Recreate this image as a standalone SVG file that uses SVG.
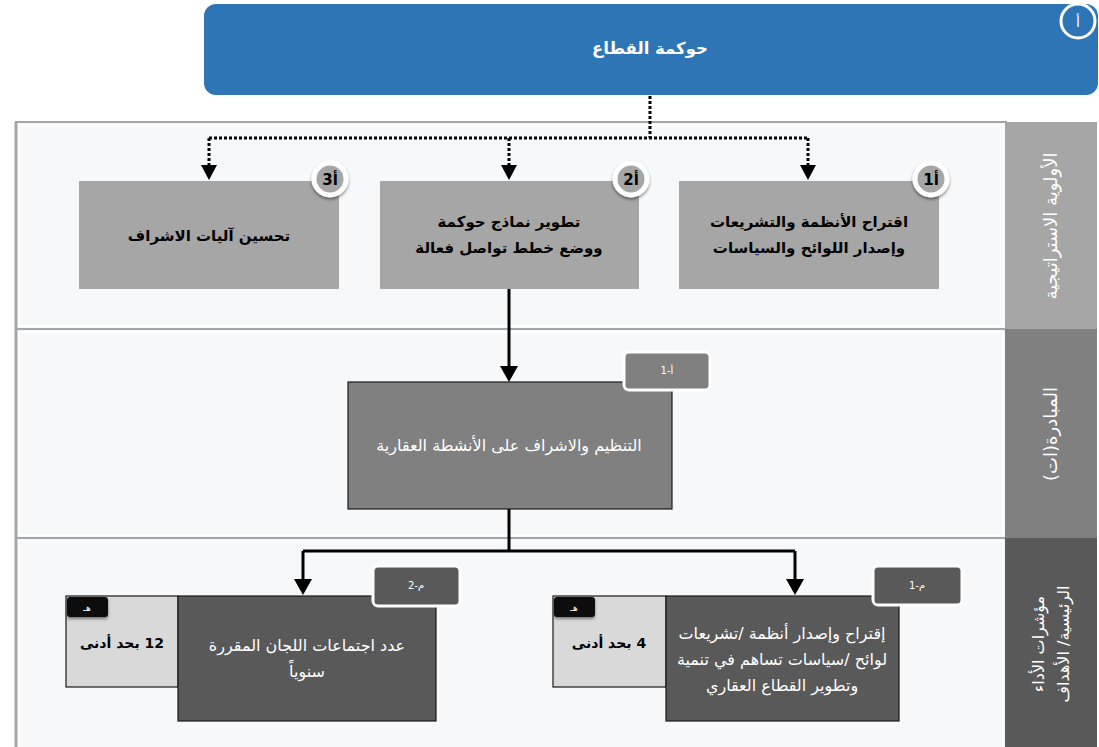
<svg xmlns="http://www.w3.org/2000/svg" width="1099" height="747" viewBox="0 0 1099 747">
  <defs>
    <style>
      .ar { font-family: "DejaVu Sans", "Noto Sans", sans-serif; }
      .band { fill: #F7F8FA; stroke: #A6A6A6; stroke-width: 2; }
      .bevel { fill: none; stroke: #FFFFFF; stroke-width: 2; }
      .side { stroke: none; }
      .sidetxt { fill: #FFFFFF; font-size: 18px; text-anchor: middle; }
      .sidetxt-sm { fill: #FFFFFF; font-size: 16px; text-anchor: middle; }
      .prio { fill: #A6A6A6; }
      .prio-txt { fill: #000000; font-size: 15px; font-weight: bold; text-anchor: middle; }
      .badge { fill: #A6A6A6; stroke: #FFFFFF; stroke-width: 5; }
      .badge-txt { fill: #000000; font-size: 15px; font-weight: bold; text-anchor: middle; }
      .init { fill: #808080; stroke: #1A1A1A; stroke-width: 1.2; }
      .kpi { fill: #595959; stroke: #1A1A1A; stroke-width: 1.2; }
      .target { fill: #D9D9D9; stroke: #1A1A1A; stroke-width: 1.2; }
      .tag-init { fill: #808080; stroke: #FFFFFF; stroke-width: 3; }
      .tag-kpi { fill: #595959; stroke: #FFFFFF; stroke-width: 3; }
      .tag-txt { fill: #FFFFFF; font-size: 10px; text-anchor: middle; }
      .white-txt { fill: #FFFFFF; font-size: 16px; text-anchor: middle; }
      .target-txt { fill: #000000; font-size: 14px; font-weight: bold; text-anchor: middle; }
      .unit { fill: #0D0D0D; }
      .unit-txt { fill: #FFFFFF; font-size: 9px; text-anchor: middle; }
      .dotted { fill: none; stroke: #000000; stroke-width: 3; stroke-dasharray: 3 2; }
      .solid { fill: none; stroke: #000000; stroke-width: 3; }
      .head { fill: #000000; }
    </style>
    <filter id="shadow" x="-30%" y="-30%" width="160%" height="180%">
      <feDropShadow dx="0" dy="2" stdDeviation="1.5" flood-color="#000000" flood-opacity="0.45"/>
    </filter>
  </defs>

  <!-- swimlane bands -->
  <g id="bands">
    <rect class="band" x="16" y="122" width="990" height="207"/>
    <rect class="bevel" x="19" y="125" width="984" height="201"/>
    <rect class="band" x="16" y="329" width="990" height="209"/>
    <rect class="bevel" x="19" y="332" width="984" height="203"/>
    <rect class="band" x="16" y="538" width="990" height="215"/>
    <rect class="bevel" x="19" y="541" width="984" height="209"/>
    <line x1="16" y1="122" x2="16" y2="747" stroke="#A6A6A6" stroke-width="3"/>
  </g>

  <!-- lane headers -->
  <g id="lane-priority">
    <rect class="side" x="1005" y="122" width="92" height="207" fill="#A6A6A6"/>
    <text class="ar sidetxt" transform="translate(1057,226) rotate(-90)" direction="rtl">الأولوية الاستراتيجية</text>
  </g>
  <g id="lane-initiative">
    <rect class="side" x="1005" y="329" width="92" height="209" fill="#808080"/>
    <text class="ar sidetxt" transform="translate(1057,434) rotate(-90)" direction="rtl">المبادرة(ات)</text>
  </g>
  <g id="lane-kpi">
    <rect class="side" x="1005" y="538" width="92" height="209" fill="#595959"/>
    <text class="ar sidetxt-sm" transform="translate(1044,644) rotate(-90)" direction="rtl">مؤشرات الأداء</text>
    <text class="ar sidetxt-sm" transform="translate(1069,644) rotate(-90)" direction="rtl">الرئيسية/ الأهداف</text>
  </g>

  <!-- connectors -->
  <g id="connectors">
    <path class="dotted" d="M650,96 V138"/>
    <path class="dotted" d="M209,138 H808"/>
    <path class="dotted" d="M209,138 V166"/>
    <path class="dotted" d="M509,138 V166"/>
    <path class="dotted" d="M808,138 V166"/>
    <path class="head" d="M201,165 L217,165 L209,180 Z"/>
    <path class="head" d="M501,165 L517,165 L509,180 Z"/>
    <path class="head" d="M800,165 L816,165 L808,180 Z"/>
    <path class="solid" d="M509,289 V368"/>
    <path class="head" d="M500,366 L518,366 L509,382 Z"/>
    <path class="solid" d="M509,509 V551"/>
    <path class="solid" d="M303,551 H795"/>
    <path class="solid" d="M303,551 V581"/>
    <path class="solid" d="M795,551 V581"/>
    <path class="head" d="M294,579 L312,579 L303,595 Z"/>
    <path class="head" d="M786,579 L804,579 L795,595 Z"/>
  </g>

  <!-- sector header -->
  <g id="sector">
    <rect x="204" y="4" width="894" height="91" rx="12" fill="#2E75B6"/>
    <text class="ar" x="650" y="54" font-size="16.5" font-weight="bold" fill="#FFFFFF" text-anchor="middle" direction="rtl">حوكمة القطاع</text>
    <circle cx="1078" cy="21" r="17" fill="#2E75B6" stroke="#FFFFFF" stroke-width="3"/>
    <text class="ar" x="1078" y="27" font-size="14" fill="#FFFFFF" text-anchor="middle">أ</text>
  </g>

  <!-- strategic priorities -->
  <g id="priority-1">
    <rect class="prio" x="679" y="181" width="260" height="108"/>
    <text class="ar prio-txt" x="809" y="227" direction="rtl">اقتراح الأنظمة والتشريعات</text>
    <text class="ar prio-txt" x="809" y="253" direction="rtl">وإصدار اللوائح والسياسات</text>
    <circle class="badge" cx="931" cy="179" r="16" filter="url(#shadow)"/>
    <text class="ar badge-txt" x="931" y="185">1أ</text>
  </g>
  <g id="priority-2">
    <rect class="prio" x="380" y="181" width="259" height="108"/>
    <text class="ar prio-txt" x="509" y="227" direction="rtl">تطوير نماذج حوكمة</text>
    <text class="ar prio-txt" x="509" y="253" direction="rtl">ووضع خطط تواصل فعالة</text>
    <circle class="badge" cx="631" cy="179" r="16" filter="url(#shadow)"/>
    <text class="ar badge-txt" x="631" y="185">2أ</text>
  </g>
  <g id="priority-3">
    <rect class="prio" x="79" y="181" width="260" height="108"/>
    <text class="ar prio-txt" x="209" y="241" direction="rtl">تحسين آليات الاشراف</text>
    <circle class="badge" cx="330" cy="179" r="16" filter="url(#shadow)"/>
    <text class="ar badge-txt" x="330" y="185">3أ</text>
  </g>

  <!-- initiative -->
  <g id="initiative-1">
    <rect class="init" x="348" y="382" width="324" height="127"/>
    <text class="ar white-txt" x="509" y="451" direction="rtl">التنظيم والاشراف على الأنشطة العقارية</text>
    <rect class="tag-init" x="624" y="352" width="86" height="38" rx="5"/>
    <text class="ar tag-txt" x="667" y="374">1-أ</text>
  </g>

  <!-- key performance indicators -->
  <g id="kpi-1">
    <rect class="target" x="553" y="596" width="113" height="91"/>
    <rect class="unit" x="554" y="597" width="41" height="20" rx="3" filter="url(#shadow)"/>
    <text class="ar unit-txt" x="574" y="611">هـ</text>
    <text class="ar target-txt" x="609" y="648" direction="rtl">4 بحد أدنى</text>
    <rect class="kpi" x="666" y="596" width="233" height="125"/>
    <text class="ar white-txt" x="782" y="639" font-size="15" direction="rtl">إقتراح وإصدار أنظمة /تشريعات</text>
    <text class="ar white-txt" x="782" y="665" font-size="15" direction="rtl">لوائح /سياسات تساهم في تنمية</text>
    <text class="ar white-txt" x="782" y="691" font-size="15" direction="rtl">وتطوير القطاع العقاري</text>
    <rect class="tag-kpi" x="873" y="566" width="89" height="39" rx="5"/>
    <text class="ar tag-txt" x="917" y="589">1-م</text>
  </g>
  <g id="kpi-2">
    <rect class="target" x="66" y="596" width="112" height="91"/>
    <rect class="unit" x="67" y="597" width="41" height="20" rx="3" filter="url(#shadow)"/>
    <text class="ar unit-txt" x="87" y="611">هـ</text>
    <text class="ar target-txt" x="122" y="648" direction="rtl">12 بحد أدنى</text>
    <rect class="kpi" x="178" y="596" width="258" height="125"/>
    <text class="ar white-txt" x="307" y="651" direction="rtl">عدد اجتماعات اللجان المقررة</text>
    <text class="ar white-txt" x="307" y="677" direction="rtl">سنوياً</text>
    <rect class="tag-kpi" x="373" y="566" width="87" height="40" rx="5"/>
    <text class="ar tag-txt" x="416" y="589">2-م</text>
  </g>
</svg>
